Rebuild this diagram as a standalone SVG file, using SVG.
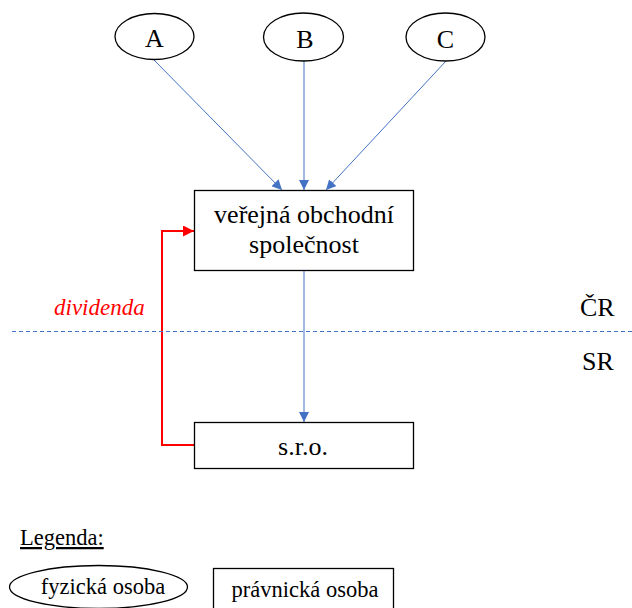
<svg xmlns="http://www.w3.org/2000/svg" width="632" height="608" viewBox="0 0 632 608">
<style>
text{font-family:"Liberation Serif","Times New Roman",Tinos,"DejaVu Serif",serif;fill:#000;stroke:none}
.node{fill:#fff;stroke:#000;stroke-width:1.3}
.big{font-size:26px;text-anchor:middle}
.leg{font-size:22.5px}
.blue{stroke:#4472C4;stroke-width:1;fill:none}
.red{stroke:#FF0000;stroke-width:2;fill:none}
</style>
<defs>
<marker id="ab" viewBox="0 0 10 10" refX="10" refY="5" markerWidth="10" markerHeight="10" markerUnits="userSpaceOnUse" orient="auto"><path d="M0,0 L10,5 L0,10 Z" fill="#4472C4"/></marker>
<marker id="ar" viewBox="0 0 10 10" refX="10" refY="5" markerWidth="11" markerHeight="11" markerUnits="userSpaceOnUse" orient="auto"><path d="M0,0 L10,5 L0,10 Z" fill="#FF0000"/></marker>
</defs>
<g id="connectors">
<line class="blue" x1="154" y1="60" x2="282" y2="190" marker-end="url(#ab)"/>
<line class="blue" x1="304" y1="61" x2="304" y2="190" marker-end="url(#ab)"/>
<line class="blue" x1="446" y1="61" x2="326" y2="190" marker-end="url(#ab)"/>
<line class="blue" x1="304" y1="271" x2="304" y2="422" marker-end="url(#ab)"/>
<polyline class="red" points="195,445 162,445 162,231 194,231" marker-end="url(#ar)"/>
</g>
<line id="border" x1="12" y1="331.5" x2="632" y2="331.5" stroke="#4472C4" stroke-width="1" stroke-dasharray="4,3"/>
<g id="A"><ellipse class="node" cx="154.5" cy="36.5" rx="39.5" ry="23"/><text class="big" x="154.5" y="47">A</text></g>
<g id="B"><ellipse class="node" cx="303.5" cy="37" rx="40" ry="24"/><text class="big" x="305" y="48">B</text></g>
<g id="C"><ellipse class="node" cx="445.5" cy="37" rx="39.5" ry="24"/><text class="big" x="445.5" y="48">C</text></g>
<g id="vos"><rect class="node" x="194.5" y="190.5" width="219" height="80"/><text class="big" x="304" y="223">veřejná obchodní</text><text class="big" x="304" y="253">společnost</text></g>
<g id="sro"><rect class="node" x="194.5" y="422.5" width="219" height="46"/><text class="big" x="303" y="455">s.r.o.</text></g>
<text x="54" y="315" font-size="23" font-style="italic" style="fill:#FF0000">dividenda</text>
<text x="580" y="316" font-size="26">ČR</text>
<text x="582" y="370" font-size="26">SR</text>
<g id="legend">
<text class="leg" x="20" y="545" text-decoration="underline">Legenda:</text>
<g id="leg-fo"><ellipse class="node" cx="98.5" cy="587" rx="89" ry="21.5"/><text class="leg" x="103" y="594" text-anchor="middle">fyzická osoba</text></g>
<g id="leg-po"><rect class="node" x="213.5" y="568.5" width="180" height="45"/><text class="leg" x="305" y="597" text-anchor="middle">právnická osoba</text></g>
</g>
</svg>
